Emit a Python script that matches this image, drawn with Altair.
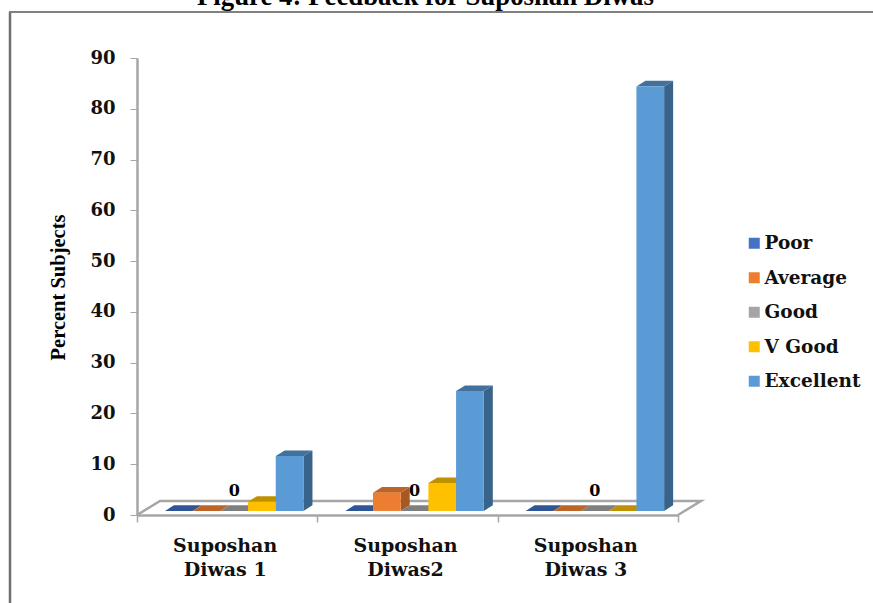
import altair as alt
import pandas as pd

# Survey results: percent of subjects giving each rating per event
categories = ["Suposhan\nDiwas 1", "Suposhan\nDiwas2", "Suposhan\nDiwas 3"]
levels = ["Poor", "Average", "Good", "V Good", "Excellent"]
poor = [0, 0, 0]
average = [0, 3.6, 0]
good = [0, 0, 0]
v_good = [1.8, 5.5, 0]
excellent = [10.8, 23.6, 83.6]

front_colors = ["#4472C4", "#ED7D31", "#A5A5A5", "#FFC000", "#5B9BD5"]
top_colors = ["#2F5597", "#BE6427", "#7F7F7F", "#BF9000", "#41719C"]
side_colors = ["#2F5597", "#A9581F", "#7F7F7F", "#BF9000", "#38638A"]

# Geometry of the fake-3D bars, in data units
SLOT = 0.1536
START = 0.155
DEPTH_X = 0.05
DEPTH_Y = 1.1
BASE_Y = 0.8
FLOOR_X = 0.1275
FLOOR_Y = 2.76

SERIF = "DejaVu Serif"
TIMES = "Liberation Serif"
GREY = "#A6A6A6"

series = [poor, average, good, v_good, excellent]
front_rows, side_rows, top_rows = [], [], []
for c in range(len(categories)):
    for s, level in enumerate(levels):
        value = series[s][c]
        left = c + START + s * SLOT
        right = left + SLOT
        top = BASE_Y + value
        bar = f"{c}-{s}"
        front_rows.append(dict(bar=bar, level=level, value=value, left=left, right=right,
                               mid=(left + right) / 2, base=BASE_Y, top=top))
        side_rows += [
            dict(bar=bar, level=level, x=right, lo=BASE_Y, hi=top),
            dict(bar=bar, level=level, x=right + DEPTH_X, lo=BASE_Y + DEPTH_Y, hi=top + DEPTH_Y),
        ]
        top_rows += [
            dict(bar=bar, level=level, y=top, x0=left, x1=right),
            dict(bar=bar, level=level, y=top + DEPTH_Y, x0=left + DEPTH_X, x1=right + DEPTH_X),
        ]

front = pd.DataFrame(front_rows)
side = pd.DataFrame(side_rows)
tops = pd.DataFrame(top_rows)
floor = pd.DataFrame({
    "x": [0, FLOOR_X, 3 + FLOOR_X, 3],
    "y": [0, FLOOR_Y, FLOOR_Y, 0],
    "n": [0, 1, 2, 3],
})
cat_labels = pd.DataFrame({"label": categories, "x": [i + 0.5 for i in range(len(categories))]})

x_scale = alt.Scale(domain=[0, 3], nice=False, zero=False)
y_scale = alt.Scale(domain=[0, 90], nice=False, zero=False)


def color(palette, legend=None):
    return alt.Color("level:N", scale=alt.Scale(domain=levels, range=palette), legend=legend)


floor_layer = alt.Chart(floor).mark_line(color=GREY, strokeWidth=2.5).encode(
    x=alt.X("x:Q", scale=x_scale, axis=alt.Axis(
        values=[0, 1, 2, 3], labels=False, title=None, grid=False, domainColor=GREY,
        domainWidth=2.5, tickColor=GREY, tickSize=7, tickWidth=1.5)),
    y=alt.Y("y:Q", scale=y_scale, axis=alt.Axis(
        values=list(range(0, 100, 10)), grid=False, domainColor=GREY, domainWidth=2.5,
        tickColor=GREY, tickSize=7, tickWidth=1, labelPadding=15,
        labelFont=SERIF, labelFontWeight="bold", labelFontSize=18, labelColor="#111111",
        title="Percent Subjects", titleFont=TIMES, titleFontWeight="bold", titleFontSize=20.5,
        titleColor="#000000", titleX=-79, titleY=229, titleAngle=-90,
        titleAlign="center", titleBaseline="middle")),
    order="n:O",
)

side_layer = alt.Chart(side).mark_area().encode(
    x=alt.X("x:Q", scale=x_scale, axis=None),
    y=alt.Y("lo:Q", scale=y_scale, axis=None),
    y2="hi:Q",
    detail="bar:N",
    color=color(side_colors),
)

top_layer = alt.Chart(tops).mark_area(orient="horizontal").encode(
    y=alt.Y("y:Q", scale=y_scale, axis=None),
    x=alt.X("x0:Q", scale=x_scale, axis=None),
    x2="x1:Q",
    detail="bar:N",
    color=color(top_colors),
)

front_layer = alt.Chart(front).mark_rect().encode(
    x=alt.X("left:Q", scale=x_scale, axis=None),
    x2="right:Q",
    y=alt.Y("base:Q", scale=y_scale, axis=None),
    y2="top:Q",
    color=color(front_colors, alt.Legend(
        orient="none", legendX=608, legendY=176, title=None, symbolType="square",
        symbolSize=121, symbolStrokeWidth=0, labelFont=SERIF, labelFontWeight="bold",
        labelFontSize=18.5, labelColor="#111111", labelOffset=1, rowPadding=15.5, values=levels)),
)

zero_labels = alt.Chart(front[front.level == "Good"]).mark_text(
    font=SERIF, fontWeight="bold", fontSize=16, color="#000000", baseline="middle", dy=-24,
).encode(
    x=alt.X("mid:Q", scale=x_scale, axis=None),
    y=alt.Y("value:Q", scale=y_scale, axis=None),
    text=alt.Text("value:Q", format="d"),
)

category_labels = alt.Chart(cat_labels).mark_text(
    font=SERIF, fontWeight="bold", fontSize=19, color="#111111", align="center",
    baseline="alphabetic", lineBreak="\n", lineHeight=24, dx=-2,
).encode(
    x=alt.X("x:Q", scale=x_scale, axis=None),
    y=alt.value(494),
    text="label:N",
)

frame_left = alt.Chart(pd.DataFrame({"a": [0]})).mark_rule(color="#707070", strokeWidth=2.5).encode(
    x=alt.value(-127), y=alt.value(-46), y2=alt.value(545))
frame_top = alt.Chart(pd.DataFrame({"a": [0]})).mark_rule(color="#808080", strokeWidth=2).encode(
    x=alt.value(-128), x2=alt.value(736), y=alt.value(-46))

heading = alt.Chart(pd.DataFrame({"t": ["Figure 4: Feedback for Suposhan Diwas"]})).mark_text(
    font=TIMES, fontWeight="bold", fontSize=26.8, color="#000000", align="left", baseline="alphabetic",
).encode(x=alt.value(60), y=alt.value(-53), text="t:N")

chart = alt.layer(
    frame_left, frame_top, heading, floor_layer, side_layer, top_layer, front_layer,
    zero_labels, category_labels,
).resolve_scale(color="independent").resolve_axis(x="independent", y="independent").properties(
    width=541,
    height=457,
    background="white",
    padding={"left": 137, "top": 58, "right": 195, "bottom": 88},
    autosize=alt.AutoSizeParams(type="none"),
).configure_view(stroke=None)

chart.save("out.html", embed_options={"renderer": "svg", "actions": False})
